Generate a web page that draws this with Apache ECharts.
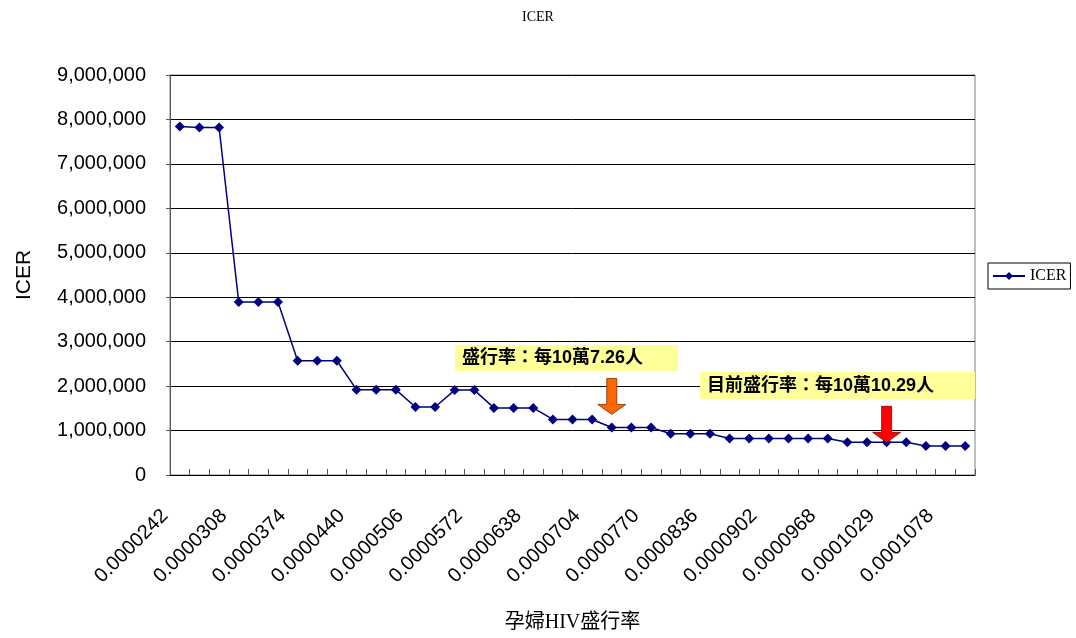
<!DOCTYPE html>
<html>
<head>
<meta charset="utf-8">
<script src="https://cdn.jsdelivr.net/npm/echarts@6/dist/echarts.min.js"></script>
<style>html,body{margin:0;padding:0;background:#fff;}#c{width:1076px;height:638px;}</style>
</head>
<body>
<div id="c"></div>
<script>
const categories = [
  '0.0000242','0.0000264','0.0000286','0.0000308','0.0000330','0.0000352','0.0000374','0.0000396','0.0000418',
  '0.0000440','0.0000462','0.0000484','0.0000506','0.0000528','0.0000550','0.0000572','0.0000594','0.0000616',
  '0.0000638','0.0000660','0.0000682','0.0000704','0.0000726','0.0000748','0.0000770','0.0000792','0.0000814',
  '0.0000836','0.0000858','0.0000880','0.0000902','0.0000924','0.0000946','0.0000968','0.0000988','0.0001009',
  '0.0001029','0.0001045','0.0001062','0.0001078','0.0001094'
];
const icerValues = [
  7840000, 7820000, 7820000,
  3890000, 3890000, 3890000,
  2570000, 2570000, 2570000,
  1920000, 1920000, 1920000,
  1530000, 1530000,
  1910000, 1910000,
  1510000, 1510000, 1510000,
  1250000, 1250000, 1250000,
  1070000, 1070000, 1070000,
  930000, 930000, 930000,
  820000, 820000, 820000, 820000, 820000, 820000,
  735000, 735000, 735000, 735000,
  650000, 650000, 650000
];
const seriesName = 'ICER';
const titleText = 'ICER';
const yAxisName = 'ICER';
const xAxisName = '孕婦HIV盛行率';
const note1 = '盛行率：每10萬7.26人';
const note2 = '目前盛行率：每10萬10.29人';
const note1Index = 22;
const note2Index = 36;

const arrowPath = 'path://M9,0 L19,0 L19,26 L28,26 L14,36 L0,26 L9,26 Z';

const chart = echarts.init(document.getElementById('c'));
chart.setOption({
  backgroundColor: '#fff',
  animation: false,
  title: {
    text: titleText, left: 'center', top: 5,
    textStyle: { fontFamily: 'Liberation Serif', fontSize: 14, fontWeight: 'normal', color: '#000' }
  },
  legend: {
    data: [seriesName], left: 988, top: 263, orient: 'vertical',
    borderColor: '#000', borderWidth: 1, borderRadius: 0, padding: [5, 4, 5, 4],
    itemWidth: 32, itemHeight: 10, itemGap: 0,
    textStyle: { fontFamily: 'Liberation Serif', fontSize: 16, color: '#000' }
  },
  grid: {
    left: 170, top: 75, width: 805, height: 400,
    show: true, borderColor: '#808080', borderWidth: 1, backgroundColor: '#fff'
  },
  xAxis: {
    type: 'category', data: categories, boundaryGap: true,
    name: xAxisName, nameLocation: 'middle', nameGap: 138,
    nameTextStyle: { fontFamily: 'Liberation Serif, "Noto Sans CJK TC"', fontSize: 20, color: '#000' },
    axisLine: { lineStyle: { color: '#000', width: 1 } },
    axisTick: { show: true, inside: true, length: 6, interval: 0, lineStyle: { color: '#555' } },
    axisLabel: {
      interval: 2, rotate: 45, margin: 23, padding: [0, 21, 0, 0],
      fontFamily: 'Liberation Sans', fontSize: 20, color: '#000'
    },
    splitLine: { show: false }
  },
  yAxis: {
    type: 'value', min: 0, max: 9000000, interval: 1000000,
    name: yAxisName, nameLocation: 'middle', nameGap: 135, nameRotate: 90,
    nameTextStyle: { fontFamily: 'Liberation Sans', fontSize: 21, color: '#000' },
    axisLine: { show: true, lineStyle: { color: '#555', width: 1 } },
    axisTick: { show: true, length: 4, lineStyle: { color: '#555' } },
    axisLabel: {
      margin: 24, fontFamily: 'Liberation Sans', fontSize: 20, color: '#000',
      formatter: v => v.toLocaleString('en-US')
    },
    splitLine: { show: true, lineStyle: { color: '#000', width: 1 } }
  },
  series: [{
    name: seriesName, type: 'line', data: icerValues,
    symbol: 'diamond', symbolSize: 10,
    lineStyle: { color: '#000080', width: 1.5 },
    itemStyle: { color: '#000080' },
    markPoint: {
      silent: true,
      label: { show: false },
      data: [
        { coord: [note1Index, icerValues[note1Index]], symbol: arrowPath, symbolSize: [28, 36],
          symbolOffset: [0, -31], itemStyle: { color: '#FF6600', borderColor: '#7a3000', borderWidth: 0.8 } },
        { coord: [note2Index, icerValues[note2Index]], symbol: arrowPath, symbolSize: [28, 36],
          symbolOffset: [0, -18], itemStyle: { color: '#FF0000', borderColor: '#800000', borderWidth: 0.8 } }
      ]
    }
  }],
  graphic: [
    { type: 'rect', shape: { x: 455, y: 345, width: 223, height: 26 }, style: { fill: '#FFFF99' }, z: 50 },
    { type: 'text', x: 462, y: 358, z: 51,
      style: { text: note1, fill: '#000', font: 'bold 18px "Liberation Sans", "Noto Sans CJK TC"', verticalAlign: 'middle' } },
    { type: 'rect', shape: { x: 700, y: 372, width: 275, height: 27 }, style: { fill: '#FFFF99' }, z: 50 },
    { type: 'text', x: 707, y: 386, z: 51,
      style: { text: note2, fill: '#000', font: 'bold 18px "Liberation Sans", "Noto Sans CJK TC"', verticalAlign: 'middle' } }
  ]
});
</script>
</body>
</html>
